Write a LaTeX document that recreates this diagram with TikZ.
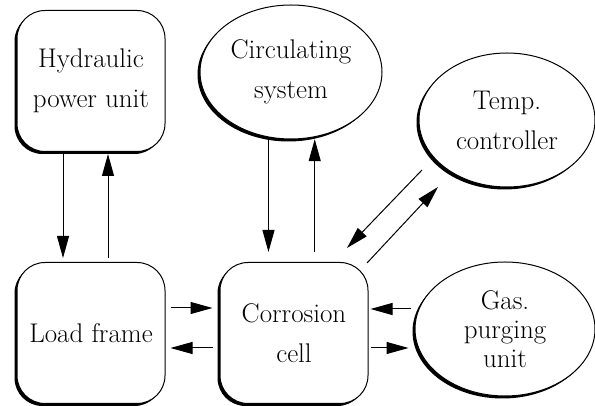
\documentclass[tikz,border=0pt]{standalone}
\usepackage{fontspec}
\usepackage{tikz}
\usetikzlibrary{positioning}
\usetikzlibrary{shapes.geometric}
\usetikzlibrary{shadows}
\usetikzlibrary{arrows.meta}

\begin{document}
\begin{tikzpicture}[
        x = 1pt, y = 1pt,
        unit/.style = {
            draw,
            fill = white,
            line width = 1pt,
            align = center,
            inner sep = 0pt,
            font = \fontsize{27}{40}\selectfont,
            drop shadow = {shadow xshift=-2.5pt, shadow yshift=-2.5pt, fill=black, opacity=1}
        },
        box/.style = {
            unit,
            rectangle,
            rounded corners = 28pt,
            minimum width = 148pt,
            minimum height = 141pt
        },
        oval/.style = {
            unit,
            ellipse,
            minimum width = #1,
            minimum height = 134pt
        },
        oval/.default = 180pt,
        flow/.style = {-{Triangle[length=22pt, width=12pt]}, line width = 1pt}
        ]
        \useasboundingbox (0,0) rectangle (595,406);
%
        \node[box] (hyd) at (91,325) {Hydraulic\\power unit};
        \node[box] (load) at (91,73) {Load frame};
        \node[box] (cell) at (294,73) {Corrosion\\cell};
%
        \node[oval=182pt] (circ) at (291,334) {Circulating\\system};
        \node[oval=176pt] (temp) at (507,286) {Temp.\\controller};
        \node[oval, font=\fontsize{27}{29}\selectfont] (gas) at (505,77) {Gas.\\purging\\unit};
%
        \coordinate (g1) at ([yshift=24pt]cell.east);
        \coordinate (g2) at ([yshift=-15pt]cell.east);
%
% hydraulic unit and load frame
        \draw[flow, shorten <=2pt, shorten >=4pt] ([xshift=-28pt]hyd.south) -- ([xshift=-28pt]load.north);
        \draw[flow, shorten <=4pt, shorten >=2pt] ([xshift=17pt]load.north) -- ([xshift=17pt]hyd.south);
%
% circulating system and cell
        \draw[flow, shorten <=2pt, shorten >=10pt] (circ.251) -- (circ.251 |- cell.north);
        \draw[flow, shorten <=10pt, shorten >=2pt] (circ.290 |- cell.north) -- (circ.290);
%
% temperature controller and cell
        \draw[flow] ([shift={(-85,-50)}]temp.center) -- ([shift={(53,14)}]cell.north);
        \draw[flow] ([shift={(73,-1)}]cell.north) -- ([shift={(-69,-67)}]temp.center);
%
% load frame and cell
        \draw[flow, shorten <=5pt, shorten >=7pt] ([yshift=25pt]load.east) -- ([yshift=25pt]cell.west);
        \draw[flow, shorten <=7pt, shorten >=5pt] ([yshift=-15pt]cell.west) -- ([yshift=-15pt]load.east);
%
% gas purging unit and cell
        \draw[flow, shorten <=4pt, shorten >=2pt] (g1 -| gas.west) -- (g1);
        \draw[flow, shorten <=2pt, shorten >=6pt] (g2) -- (g2 -| gas.west);
%
\end{tikzpicture}
\end{document}
